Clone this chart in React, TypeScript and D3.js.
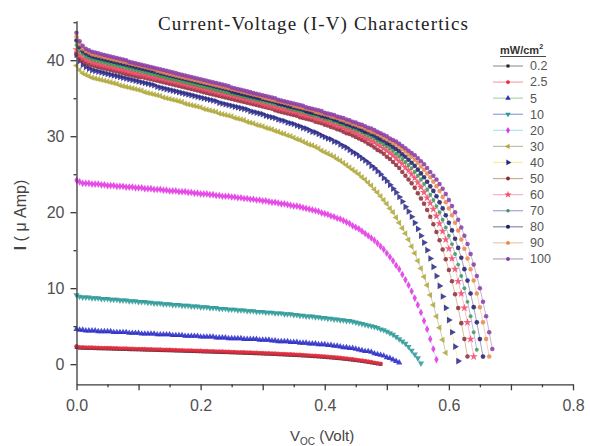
import { useEffect, useRef } from "react";
import * as d3 from "d3";

// irradiance levels, mW/cm^2
const intensityLabels = ["0.2", "2.5", "5", "10", "20", "30", "40", "50", "60", "70", "80", "90", "100"];

// every curve is sampled from V = 0 at this voltage step
const V_STEP = 0.005;

// current in µA
const current0_2 = [
  2.22, 2.14, 2.12, 2.11, 2.1, 2.09, 2.08, 2.06, 2.05, 2.04,
  2.03, 2.02, 2.0, 1.99, 1.98, 1.97, 1.96, 1.94, 1.93, 1.92,
  1.91, 1.9, 1.88, 1.87, 1.86, 1.85, 1.84, 1.82, 1.81, 1.8,
  1.79, 1.78, 1.76, 1.75, 1.74, 1.72, 1.71, 1.7, 1.69, 1.67,
  1.66, 1.64, 1.63, 1.62, 1.6, 1.59, 1.58, 1.56, 1.55, 1.54,
  1.52, 1.51, 1.49, 1.48, 1.46, 1.45, 1.43, 1.42, 1.4, 1.39,
  1.37, 1.35, 1.34, 1.32, 1.3, 1.28, 1.26, 1.24, 1.22, 1.2,
  1.18, 1.16, 1.14, 1.11, 1.09, 1.06, 1.03, 1.01, 0.98, 0.95,
  0.92, 0.88, 0.85, 0.81, 0.77, 0.74, 0.69, 0.65, 0.6, 0.55,
  0.5, 0.45, 0.39, 0.33, 0.27, 0.2, 0.13, 0.06, 0.0,
];
const current2_5 = [
  2.35, 2.24, 2.23, 2.21, 2.2, 2.19, 2.18, 2.17, 2.15, 2.14,
  2.13, 2.12, 2.11, 2.09, 2.08, 2.07, 2.06, 2.05, 2.03, 2.02,
  2.01, 2.0, 1.99, 1.97, 1.96, 1.95, 1.94, 1.93, 1.91, 1.9,
  1.89, 1.88, 1.86, 1.85, 1.84, 1.82, 1.81, 1.8, 1.79, 1.77,
  1.76, 1.74, 1.73, 1.72, 1.7, 1.69, 1.68, 1.66, 1.65, 1.64,
  1.62, 1.61, 1.59, 1.58, 1.56, 1.55, 1.53, 1.52, 1.5, 1.49,
  1.47, 1.45, 1.44, 1.42, 1.4, 1.38, 1.36, 1.34, 1.32, 1.3,
  1.28, 1.26, 1.24, 1.21, 1.19, 1.16, 1.13, 1.11, 1.08, 1.05,
  1.02, 0.98, 0.95, 0.91, 0.87, 0.84, 0.79, 0.75, 0.7, 0.65,
  0.6, 0.54, 0.49, 0.42, 0.36, 0.29, 0.21, 0.14, 0.05,
];
const current5 = [
  4.6, 4.5, 4.5, 4.4, 4.4, 4.4, 4.4, 4.3, 4.3, 4.3,
  4.3, 4.3, 4.2, 4.2, 4.2, 4.2, 4.2, 4.1, 4.1, 4.1,
  4.1, 4.0, 4.0, 4.0, 4.0, 4.0, 3.9, 3.9, 3.9, 3.9,
  3.9, 3.8, 3.8, 3.8, 3.8, 3.7, 3.7, 3.7, 3.7, 3.7,
  3.6, 3.6, 3.6, 3.6, 3.6, 3.5, 3.5, 3.5, 3.5, 3.4,
  3.4, 3.4, 3.4, 3.4, 3.3, 3.3, 3.3, 3.3, 3.3, 3.2,
  3.2, 3.2, 3.2, 3.1, 3.1, 3.0, 3.0, 3.0, 3.0, 2.9,
  2.9, 2.9, 2.8, 2.8, 2.8, 2.7, 2.7, 2.7, 2.6, 2.6,
  2.6, 2.5, 2.5, 2.4, 2.4, 2.3, 2.2, 2.2, 2.1, 2.1,
  2.0, 1.9, 1.8, 1.7, 1.7, 1.6, 1.4, 1.3, 1.2, 1.1,
  0.9, 0.8, 0.6, 0.4, 0.2,
];
const current10 = [
  9.1, 8.9, 8.8, 8.8, 8.8, 8.7, 8.7, 8.7, 8.6, 8.6,
  8.6, 8.5, 8.5, 8.5, 8.4, 8.4, 8.4, 8.3, 8.3, 8.3,
  8.2, 8.2, 8.2, 8.1, 8.1, 8.0, 8.0, 8.0, 7.9, 7.9,
  7.9, 7.8, 7.8, 7.8, 7.7, 7.7, 7.7, 7.6, 7.6, 7.6,
  7.5, 7.5, 7.5, 7.4, 7.4, 7.4, 7.3, 7.3, 7.3, 7.2,
  7.2, 7.2, 7.1, 7.1, 7.1, 7.0, 7.0, 7.0, 6.9, 6.9,
  6.9, 6.8, 6.8, 6.8, 6.7, 6.7, 6.7, 6.6, 6.6, 6.6,
  6.5, 6.5, 6.4, 6.4, 6.3, 6.3, 6.3, 6.2, 6.2, 6.1,
  6.1, 6.0, 6.0, 5.9, 5.9, 5.8, 5.8, 5.7, 5.7, 5.6,
  5.5, 5.4, 5.3, 5.2, 5.1, 5.0, 4.9, 4.8, 4.6, 4.5,
  4.3, 4.1, 3.9, 3.6, 3.3, 3.0, 2.7, 2.3, 1.8, 1.3,
  0.8, 0.1,
];
const current20 = [
  24.2, 24.0, 23.8, 23.8, 23.8, 23.7, 23.7, 23.7, 23.6, 23.6,
  23.5, 23.5, 23.5, 23.4, 23.4, 23.4, 23.3, 23.3, 23.3, 23.2,
  23.2, 23.2, 23.1, 23.1, 23.1, 23.0, 23.0, 23.0, 22.9, 22.9,
  22.8, 22.8, 22.8, 22.7, 22.7, 22.7, 22.6, 22.6, 22.5, 22.5,
  22.4, 22.4, 22.4, 22.3, 22.3, 22.2, 22.2, 22.1, 22.1, 22.1,
  22.0, 22.0, 21.9, 21.9, 21.8, 21.8, 21.7, 21.7, 21.6, 21.6,
  21.5, 21.5, 21.4, 21.3, 21.3, 21.2, 21.1, 21.1, 21.0, 20.9,
  20.8, 20.8, 20.7, 20.6, 20.5, 20.4, 20.3, 20.2, 20.1, 19.9,
  19.8, 19.7, 19.5, 19.4, 19.2, 19.1, 18.9, 18.7, 18.5, 18.2,
  18.0, 17.8, 17.5, 17.2, 16.9, 16.6, 16.3, 15.9, 15.5, 15.1,
  14.6, 14.1, 13.6, 13.0, 12.5, 11.8, 11.1, 10.4, 9.6, 8.7,
  7.8, 6.8, 5.7, 4.6, 3.3, 2.0, 0.6,
];
const current30 = [
  39.3, 38.7, 38.3, 38.1, 37.9, 37.7, 37.6, 37.5, 37.4, 37.3,
  37.2, 37.1, 37.0, 36.9, 36.7, 36.6, 36.5, 36.4, 36.3, 36.2,
  36.1, 36.0, 35.8, 35.7, 35.6, 35.5, 35.4, 35.3, 35.1, 35.0,
  34.9, 34.8, 34.7, 34.6, 34.5, 34.3, 34.2, 34.1, 34.0, 33.9,
  33.8, 33.6, 33.5, 33.4, 33.3, 33.2, 33.0, 32.9, 32.8, 32.7,
  32.6, 32.4, 32.3, 32.2, 32.1, 31.9, 31.8, 31.7, 31.5, 31.4,
  31.3, 31.1, 31.0, 30.9, 30.7, 30.6, 30.4, 30.3, 30.1, 30.0,
  29.8, 29.6, 29.5, 29.3, 29.1, 28.9, 28.8, 28.6, 28.4, 28.1,
  27.9, 27.7, 27.5, 27.3, 27.0, 26.8, 26.5, 26.2, 25.9, 25.6,
  25.3, 25.0, 24.6, 24.3, 23.9, 23.5, 23.0, 22.6, 22.1, 21.6,
  21.1, 20.5, 20.0, 19.3, 18.6, 17.9, 17.2, 16.4, 15.5, 14.6,
  13.6, 12.6, 11.5, 10.4, 9.1, 7.8, 6.3, 4.8, 3.2, 1.5,
];
const current40 = [
  40.7, 39.9, 39.4, 39.1, 38.9, 38.7, 38.6, 38.5, 38.4, 38.3,
  38.2, 38.1, 38.0, 37.9, 37.8, 37.7, 37.6, 37.5, 37.4, 37.3,
  37.2, 37.1, 37.0, 36.9, 36.8, 36.7, 36.5, 36.4, 36.3, 36.2,
  36.1, 36.0, 35.9, 35.8, 35.7, 35.6, 35.5, 35.4, 35.3, 35.2,
  35.1, 35.0, 34.9, 34.8, 34.7, 34.6, 34.4, 34.3, 34.2, 34.1,
  34.0, 33.9, 33.8, 33.7, 33.6, 33.5, 33.3, 33.2, 33.1, 33.0,
  32.9, 32.7, 32.6, 32.5, 32.4, 32.2, 32.1, 32.0, 31.8, 31.7,
  31.6, 31.4, 31.3, 31.1, 31.0, 30.8, 30.6, 30.5, 30.3, 30.1,
  29.9, 29.7, 29.6, 29.3, 29.2, 28.9, 28.7, 28.5, 28.2, 27.9,
  27.7, 27.4, 27.1, 26.8, 26.5, 26.1, 25.8, 25.4, 25.0, 24.5,
  24.1, 23.6, 23.1, 22.6, 22.0, 21.4, 20.7, 20.1, 19.4, 18.6,
  17.8, 16.9, 16.0, 15.0, 13.9, 12.8, 11.6, 10.3, 8.9, 7.4,
  5.8, 4.2, 2.3, 0.4,
];
const current50 = [
  40.8, 40.2, 39.9, 39.6, 39.4, 39.3, 39.2, 39.1, 39.0, 38.9,
  38.8, 38.7, 38.6, 38.5, 38.4, 38.3, 38.2, 38.1, 38.0, 37.9,
  37.8, 37.8, 37.7, 37.6, 37.5, 37.4, 37.3, 37.2, 37.1, 37.0,
  36.9, 36.8, 36.7, 36.6, 36.5, 36.4, 36.3, 36.2, 36.1, 36.0,
  35.9, 35.8, 35.7, 35.6, 35.5, 35.4, 35.3, 35.2, 35.1, 35.0,
  34.9, 34.8, 34.7, 34.6, 34.5, 34.4, 34.3, 34.2, 34.1, 34.0,
  33.9, 33.8, 33.7, 33.6, 33.4, 33.3, 33.2, 33.1, 33.0, 32.9,
  32.8, 32.7, 32.5, 32.4, 32.3, 32.2, 32.1, 31.9, 31.8, 31.7,
  31.5, 31.4, 31.2, 31.1, 30.9, 30.8, 30.6, 30.4, 30.3, 30.1,
  29.9, 29.7, 29.5, 29.3, 29.0, 28.8, 28.5, 28.2, 28.0, 27.7,
  27.3, 27.0, 26.6, 26.2, 25.8, 25.3, 24.8, 24.3, 23.8, 23.2,
  22.5, 21.8, 21.1, 20.3, 19.4, 18.4, 17.4, 16.3, 15.1, 13.8,
  12.4, 10.9, 9.2, 7.4, 5.4, 3.3, 1.0,
];
const current60 = [
  41.4, 40.7, 40.3, 40.1, 39.9, 39.7, 39.6, 39.5, 39.4, 39.3,
  39.2, 39.1, 39.0, 38.9, 38.8, 38.7, 38.6, 38.5, 38.4, 38.3,
  38.2, 38.1, 38.0, 37.9, 37.8, 37.7, 37.7, 37.6, 37.5, 37.4,
  37.3, 37.2, 37.1, 37.0, 36.9, 36.8, 36.7, 36.6, 36.5, 36.4,
  36.3, 36.2, 36.1, 36.0, 35.9, 35.8, 35.7, 35.6, 35.5, 35.4,
  35.3, 35.2, 35.1, 35.0, 34.9, 34.8, 34.7, 34.6, 34.5, 34.4,
  34.2, 34.1, 34.0, 33.9, 33.8, 33.7, 33.6, 33.5, 33.4, 33.3,
  33.2, 33.1, 32.9, 32.8, 32.7, 32.6, 32.5, 32.3, 32.2, 32.1,
  32.0, 31.8, 31.7, 31.5, 31.4, 31.3, 31.1, 30.9, 30.8, 30.6,
  30.4, 30.2, 30.0, 29.8, 29.6, 29.4, 29.2, 28.9, 28.7, 28.4,
  28.1, 27.8, 27.5, 27.1, 26.7, 26.4, 25.9, 25.5, 25.0, 24.5,
  23.9, 23.3, 22.6, 21.9, 21.2, 20.4, 19.5, 18.5, 17.5, 16.4,
  15.2, 13.9, 12.5, 10.9, 9.3, 7.4, 5.5, 3.3, 1.0,
];
const current70 = [
  42.0, 41.2, 40.8, 40.5, 40.3, 40.1, 40.0, 39.9, 39.8, 39.7,
  39.6, 39.5, 39.4, 39.3, 39.2, 39.1, 39.0, 38.9, 38.8, 38.7,
  38.6, 38.5, 38.4, 38.3, 38.2, 38.1, 38.0, 37.9, 37.8, 37.7,
  37.6, 37.5, 37.4, 37.3, 37.2, 37.1, 37.0, 36.9, 36.8, 36.7,
  36.6, 36.5, 36.4, 36.3, 36.2, 36.1, 36.0, 35.9, 35.8, 35.7,
  35.6, 35.5, 35.4, 35.3, 35.2, 35.1, 35.0, 34.9, 34.8, 34.7,
  34.6, 34.5, 34.4, 34.3, 34.2, 34.1, 34.0, 33.9, 33.7, 33.6,
  33.5, 33.4, 33.3, 33.2, 33.1, 32.9, 32.8, 32.7, 32.6, 32.5,
  32.3, 32.2, 32.1, 31.9, 31.8, 31.6, 31.5, 31.3, 31.2, 31.0,
  30.8, 30.7, 30.5, 30.3, 30.1, 29.9, 29.7, 29.4, 29.2, 28.9,
  28.7, 28.4, 28.1, 27.7, 27.4, 27.0, 26.6, 26.2, 25.8, 25.3,
  24.8, 24.3, 23.7, 23.0, 22.3, 21.6, 20.8, 20.0, 19.0, 18.0,
  16.9, 15.8, 14.5, 13.1, 11.6, 10.0, 8.2, 6.3, 4.2, 1.9,
];
const current80 = [
  42.6, 41.7, 41.2, 40.9, 40.7, 40.5, 40.4, 40.3, 40.2, 40.1,
  40.0, 39.9, 39.8, 39.7, 39.6, 39.5, 39.4, 39.3, 39.2, 39.1,
  39.0, 38.9, 38.8, 38.7, 38.6, 38.5, 38.4, 38.3, 38.2, 38.1,
  38.0, 37.9, 37.8, 37.7, 37.6, 37.5, 37.4, 37.3, 37.2, 37.1,
  37.0, 36.9, 36.8, 36.7, 36.6, 36.5, 36.4, 36.3, 36.2, 36.1,
  35.9, 35.8, 35.7, 35.6, 35.5, 35.4, 35.3, 35.2, 35.1, 35.0,
  34.9, 34.8, 34.7, 34.6, 34.5, 34.3, 34.2, 34.1, 34.0, 33.9,
  33.8, 33.7, 33.6, 33.5, 33.3, 33.2, 33.1, 33.0, 32.9, 32.7,
  32.6, 32.5, 32.4, 32.2, 32.1, 31.9, 31.8, 31.6, 31.5, 31.3,
  31.2, 31.0, 30.8, 30.6, 30.5, 30.3, 30.1, 29.8, 29.6, 29.4,
  29.1, 28.9, 28.6, 28.3, 28.0, 27.6, 27.3, 26.9, 26.5, 26.1,
  25.6, 25.1, 24.6, 24.0, 23.4, 22.8, 22.1, 21.3, 20.5, 19.6,
  18.6, 17.6, 16.5, 15.3, 14.0, 12.5, 11.0, 9.3, 7.5, 5.5,
  3.3, 1.0,
];
const current90 = [
  43.1, 42.1, 41.5, 41.2, 41.0, 40.8, 40.7, 40.6, 40.5, 40.4,
  40.3, 40.2, 40.1, 40.0, 39.9, 39.8, 39.7, 39.6, 39.5, 39.4,
  39.3, 39.2, 39.1, 39.0, 38.9, 38.8, 38.6, 38.5, 38.4, 38.3,
  38.2, 38.1, 38.0, 37.9, 37.8, 37.7, 37.6, 37.5, 37.4, 37.3,
  37.2, 37.1, 37.0, 36.9, 36.8, 36.7, 36.6, 36.5, 36.4, 36.3,
  36.2, 36.1, 36.0, 35.9, 35.8, 35.7, 35.6, 35.5, 35.4, 35.3,
  35.1, 35.0, 34.9, 34.8, 34.7, 34.6, 34.5, 34.4, 34.3, 34.2,
  34.0, 33.9, 33.8, 33.7, 33.6, 33.5, 33.4, 33.2, 33.1, 33.0,
  32.9, 32.8, 32.6, 32.5, 32.4, 32.2, 32.1, 31.9, 31.8, 31.6,
  31.5, 31.3, 31.2, 31.0, 30.8, 30.6, 30.5, 30.3, 30.1, 29.8,
  29.6, 29.4, 29.1, 28.9, 28.6, 28.3, 28.0, 27.6, 27.3, 26.9,
  26.5, 26.0, 25.6, 25.1, 24.6, 24.0, 23.4, 22.8, 22.0, 21.3,
  20.5, 19.6, 18.6, 17.6, 16.4, 15.2, 13.9, 12.5, 11.0, 9.3,
  7.5, 5.5, 3.3, 1.0,
];
const current100 = [
  43.6, 42.5, 41.9, 41.5, 41.3, 41.1, 41.0, 40.9, 40.8, 40.7,
  40.6, 40.5, 40.4, 40.3, 40.2, 40.1, 40.0, 39.8, 39.7, 39.6,
  39.5, 39.4, 39.3, 39.2, 39.1, 39.0, 38.9, 38.8, 38.7, 38.6,
  38.5, 38.4, 38.3, 38.2, 38.1, 38.0, 37.9, 37.8, 37.7, 37.6,
  37.5, 37.4, 37.3, 37.2, 37.1, 37.0, 36.9, 36.8, 36.7, 36.6,
  36.4, 36.3, 36.2, 36.1, 36.0, 35.9, 35.8, 35.7, 35.6, 35.5,
  35.4, 35.3, 35.2, 35.1, 35.0, 34.8, 34.7, 34.6, 34.5, 34.4,
  34.3, 34.2, 34.1, 34.0, 33.8, 33.7, 33.6, 33.5, 33.4, 33.3,
  33.1, 33.0, 32.9, 32.8, 32.6, 32.5, 32.4, 32.2, 32.1, 31.9,
  31.8, 31.6, 31.5, 31.3, 31.1, 31.0, 30.8, 30.6, 30.4, 30.2,
  30.0, 29.7, 29.5, 29.3, 29.0, 28.7, 28.4, 28.1, 27.8, 27.5,
  27.1, 26.7, 26.3, 25.8, 25.3, 24.8, 24.3, 23.7, 23.1, 22.4,
  21.6, 20.8, 20.0, 19.0, 18.0, 16.9, 15.8, 14.5, 13.1, 11.6,
  10.0, 8.2, 6.3, 4.2, 2.0,
];

const seriesCurrents = [
  current0_2, current2_5, current5, current10, current20, current30, current40,
  current50, current60, current70, current80, current90, current100,
];

const yMajorTicks = [0, 10, 20, 30, 40];
const yMinorTicks = [5, 15, 25, 35, 45];
const xLabelTicks = [0, 0.2, 0.4, 0.6, 0.8];
const xMidTicks = [0.1, 0.3, 0.5, 0.7];
const xMinorTicks = [0.05, 0.15, 0.25, 0.35, 0.45, 0.55, 0.65, 0.75];

// styling (origin-like): symbol colour, connecting line colour, symbol shape
const markerColors = [
  "#1a1a1a", "#e4283c", "#2a2ac8", "#2a9a96", "#e432e4", "#b0a83a", "#262688",
  "#8c2c3a", "#ee4a6a", "#3a9a4c", "#1e1e6a", "#e8884c", "#8a3aa8",
];
const lineColors = [
  "#9a9a9a", "#f4a4ac", "#a4dca4", "#8ca2d8", "#a8e6f2", "#c2bea8", "#f2ee9e",
  "#c8b088", "#f4b2c2", "#a2a2e8", "#8a8ab0", "#e8c8a8", "#b2a2c2",
];
const markerShapes: { type: d3.SymbolType; size: number; rotate: number }[] = [
  { type: d3.symbolSquare, size: 12, rotate: 0 },
  { type: d3.symbolCircle, size: 15, rotate: 0 },
  { type: d3.symbolTriangle, size: 17, rotate: 0 },
  { type: d3.symbolTriangle, size: 17, rotate: 180 },
  { type: d3.symbolDiamond, size: 17, rotate: 0 },
  { type: d3.symbolTriangle, size: 17, rotate: -90 },
  { type: d3.symbolTriangle, size: 19, rotate: 90 },
  { type: d3.symbolCircle, size: 16, rotate: 0 },
  { type: d3.symbolStar, size: 22, rotate: 0 },
  { type: d3.symbolCircle, size: 12, rotate: 0 },
  { type: d3.symbolCircle, size: 17, rotate: 0 },
  { type: d3.symbolCircle, size: 16, rotate: 0 },
  { type: d3.symbolCircle, size: 16, rotate: 0 },
];

const WIDTH = 590;
const HEIGHT = 446;
const SANS = "Arial, 'Liberation Sans', sans-serif";

export default function App() {
  const xAxisRef = useRef<SVGGElement | null>(null);
  const yAxisRef = useRef<SVGGElement | null>(null);

  const x = d3.scaleLinear().domain([0, 0.8]).range([76.5, 573]);
  const y = d3.scaleLinear().domain([-2.65, 45.2]).range([384.3, 20.7]);

  const series = intensityLabels.map((label, i) => ({
    label,
    points: seriesCurrents[i].map((current, k) => ({ v: k * V_STEP, i: current })),
    marker: markerColors[i],
    line: lineColors[i],
    shape: markerShapes[i],
  }));

  const line = d3
    .line<{ v: number; i: number }>()
    .x((d) => x(d.v))
    .y((d) => y(d.i));

  useEffect(() => {
    if (!xAxisRef.current || !yAxisRef.current) return;

    const styleAxis = (g: d3.Selection<SVGGElement, unknown, null, undefined>) => {
      g.selectAll("line,path").attr("stroke", "#3a3a3a").attr("stroke-width", 1.3);
      g.selectAll("text")
        .attr("fill", "#505050")
        .attr("font-size", 16)
        .attr("font-family", SANS);
    };

    const yg = d3.select(yAxisRef.current);
    yg.selectAll("*").remove();
    yg.append("g")
      .call(
        d3.axisLeft(y).tickValues(yMajorTicks).tickSize(6).tickSizeOuter(0).tickPadding(6)
          .tickFormat(d3.format("d")),
      )
      .call(styleAxis);
    yg.append("g")
      .call(d3.axisLeft(y).tickValues(yMinorTicks).tickSize(3).tickFormat(() => ""))
      .call((g) => g.select(".domain").remove())
      .call(styleAxis);

    const xg = d3.select(xAxisRef.current);
    xg.selectAll("*").remove();
    xg.append("g")
      .call(
        d3.axisBottom(x).tickValues(xLabelTicks).tickSize(6).tickSizeOuter(0).tickPadding(9)
          .tickFormat(d3.format(".1f")),
      )
      .call(styleAxis);
    xg.append("g")
      .call(d3.axisBottom(x).tickValues(xMidTicks).tickSize(6).tickFormat(() => ""))
      .call((g) => g.select(".domain").remove())
      .call(styleAxis);
    xg.append("g")
      .call(d3.axisBottom(x).tickValues(xMinorTicks).tickSize(3).tickFormat(() => ""))
      .call((g) => g.select(".domain").remove())
      .call(styleAxis);
  }, []);

  const symbolPath = (shape: (typeof markerShapes)[number], scale = 1) =>
    d3.symbol(shape.type, shape.size * scale)() ?? "";

  const legendTop = 66;
  const legendGap = 16.08;

  return (
    <>
      <style>{"body{margin:0;background:#fff}"}</style>
      <svg width={WIDTH} height={HEIGHT} viewBox={`0 0 ${WIDTH} ${HEIGHT}`} style={{ display: "block" }}>
        <rect width={WIDTH} height={HEIGHT} fill="#fff" />

        <text
          x={313}
          y={30}
          textAnchor="middle"
          fontFamily="'Times New Roman', 'Liberation Serif', serif"
          fontSize={19}
          fill="#222"
          textLength={310}
          lengthAdjust="spacing"
        >
          Current-Voltage (I-V) Charactertics
        </text>

        {series.map((s) => (
          <g key={s.label}>
            <path d={line(s.points) ?? ""} fill="none" stroke={s.line} strokeWidth={0.8} />
            {s.points.map((p, k) => (
              <path
                key={k}
                d={symbolPath(s.shape)}
                transform={`translate(${x(p.v)},${y(p.i)}) rotate(${s.shape.rotate})`}
                fill={s.marker}
                fillOpacity={0.85}
              />
            ))}
          </g>
        ))}

        <g ref={xAxisRef} transform={`translate(0,${y(-2.65)})`} />
        <g ref={yAxisRef} transform={`translate(${x(0)},0)`} />

        <text
          transform="translate(26,215) rotate(-90)"
          textAnchor="middle"
          fontFamily={SANS}
          fontSize={16}
          fill="#444"
        >
          <tspan fontWeight="bold">I</tspan> ( μ Amp)
        </text>

        <text x={290} y={441} fontFamily={SANS} fontSize={15} fill="#444">
          V
          <tspan fontSize={10} dy={4}>
            OC
          </tspan>
          <tspan dy={-4}> (Volt)</tspan>
        </text>

        <g fontFamily={SANS}>
          <text x={500} y={54} fontSize={11} fontWeight="bold" fill="#333">
            mW/cm
            <tspan fontSize={7} dy={-5}>
              2
            </tspan>
          </text>
          <line x1={500} x2={546} y1={56.5} y2={56.5} stroke="#333" strokeWidth={0.9} />
          {series.map((s, i) => {
            const ly = legendTop + i * legendGap;
            return (
              <g key={s.label}>
                <line x1={493} x2={523} y1={ly} y2={ly} stroke={s.line} strokeWidth={1.2} />
                <path
                  d={symbolPath(s.shape, 0.75)}
                  transform={`translate(508,${ly}) rotate(${s.shape.rotate})`}
                  fill={s.marker}
                />
                <text x={530} y={ly} dy="0.35em" fontSize={12.5} fill="#555">
                  {s.label}
                </text>
              </g>
            );
          })}
        </g>
      </svg>
    </>
  );
}
